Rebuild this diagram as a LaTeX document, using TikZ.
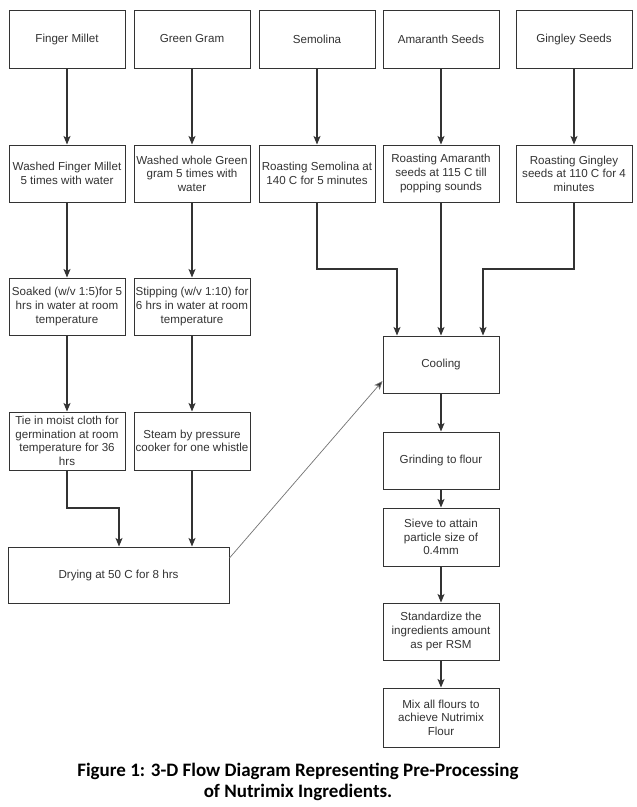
\documentclass[tikz,border=0pt]{standalone}
\usepackage{fontspec}
\setmainfont{Liberation Sans}
\newfontfamily\capfont{Carlito}
\usetikzlibrary{arrows.meta}
\definecolor{ink}{HTML}{333333}
\tikzset{
  box/.style={draw=ink, line width=1pt, fill=white, align=center, inner sep=0.5pt,
    text=ink, font=\fontsize{11.6}{13.6}\selectfont, minimum width=116pt},
  rowbox/.style={box, minimum height=57pt},
  flow/.style={draw=ink, line width=1.1pt, -{Stealth[length=8.5pt,width=7pt,inset=2pt]}},
  thin/.style={draw=black!55, line width=0.7pt, -{Stealth[length=8.5pt,width=7pt,inset=2pt,fill=ink]}},
}
\begin{document}
\begin{tikzpicture}[x=1pt,y=-1pt]
\useasboundingbox (0,0) rectangle (637,807);
\fill[white] (0,0) rectangle (637,807);
% top row
\node[rowbox, minimum height=58pt] (a1) at (67,39) {Finger Millet};
\node[rowbox, minimum height=58pt] (b1) at (192,39) {Green Gram};
\node[rowbox, minimum height=58pt] (c1) at (317,39) {Semolina};
\node[rowbox, minimum height=58pt] (d1) at (441,39) {Amaranth Seeds};
\node[rowbox, minimum height=58pt] (e1) at (574,39) {Gingley Seeds};
% second row
\node[rowbox] (a2) at (67,173.5) {Washed Finger Millet\\5 times with water};
\node[rowbox] (b2) at (192,173.5) {Washed whole Green\\gram 5 times with\\water};
\node[rowbox] (c2) at (317,173.5) {Roasting Semolina at\\140 C for 5 minutes};
\node[rowbox] (d2) at (441,173.5) {Roasting Amaranth\\seeds at 115 C till\\popping sounds};
\node[rowbox] (e2) at (574,173.5) {Roasting Gingley\\seeds at 110 C for 4\\minutes};
% third row
\node[rowbox] (a3) at (67,306.5) {Soaked (w/v 1:5)for 5\\hrs in water at room\\temperature};
\node[rowbox] (b3) at (192,306.5) {Stipping (w/v 1:10) for\\6 hrs in water at room\\temperature};
% fourth row
\node[rowbox, minimum height=58pt] (a4) at (67,441) {Tie in moist cloth for\\germination at room\\temperature for 36\\hrs};
\node[rowbox, minimum height=58pt] (b4) at (192,441) {Steam by pressure\\cooker for one whistle};
% drying
\node[box, minimum width=221pt, minimum height=56pt] (dry) at (118.5,575) {Drying at 50 C for 8 hrs};
% right column
\node[rowbox] (cool) at (441,364.5) {Cooling};
\node[rowbox] (grind) at (441,460.5) {Grinding to flour};
\node[rowbox, minimum height=58pt] (sieve) at (441,537) {Sieve to attain\\particle size of\\0.4mm};
\node[rowbox] (std) at (441,631.5) {Standardize the\\ingredients amount\\as per RSM};
\node[rowbox, minimum height=59pt] (mix) at (441,717.5) {Mix all flours to\\achieve Nutrimix\\Flour};
% caption
\node[align=center, font=\capfont\bfseries\fontsize{19}{21.5}\selectfont] (cap) at (298,782)
  {Figure 1: 3-D Flow Diagram Representing Pre-Processing\\of Nutrimix Ingredients.};
% connectors
\foreach \p/\q in {a1/a2,b1/b2,c1/c2,d1/d2,e1/e2,a2/a3,b2/b3,a3/a4,b3/b4}
  \draw[flow] (\p) -- (\q);
\draw[flow] (c2.south) |- (397,269) -- (cool.north -| 397,0);
\draw[flow] (d2) -- (cool);
\draw[flow] (e2.south) |- (483,269) -- (cool.north -| 483,0);
\draw[flow] (a4.south) |- (119,508) -- (dry.north -| 119,0);
\draw[flow] (b4.south) -- (dry.north -| b4.south);
\draw[thin] (dry.east |- 0,558) -- (cool.west |- 0,381);
\draw[flow] (cool) -- (grind);
\draw[flow] (grind) -- (sieve);
\draw[flow] (sieve) -- (std);
\draw[flow] (std) -- (mix);
\end{tikzpicture}
\end{document}
